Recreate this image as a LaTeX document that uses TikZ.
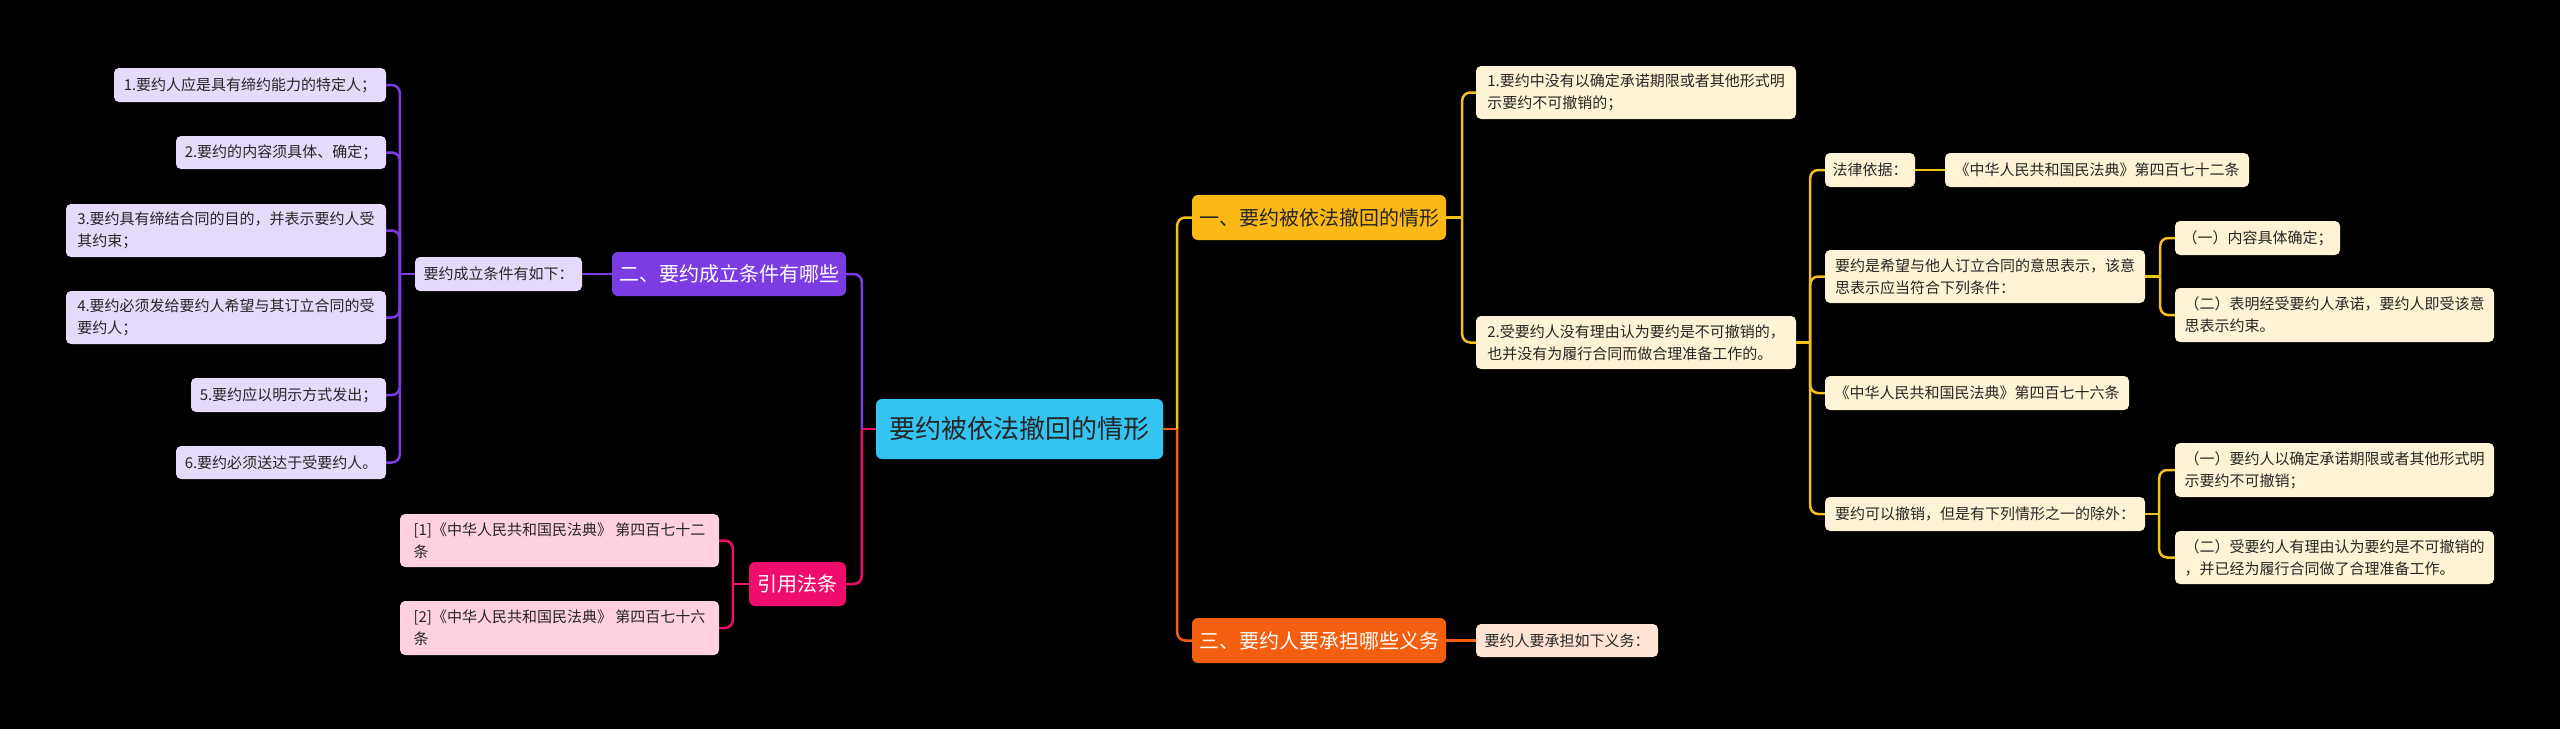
\documentclass[tikz,border=0pt]{standalone}
\usepackage{fontspec}
\setmainfont{Noto Sans CJK SC}
\usetikzlibrary{calc}
\definecolor{cyanR}{HTML}{33C4F2}
\definecolor{yelM}{HTML}{FBB916}
\definecolor{purM}{HTML}{7B3DE3}
\definecolor{pinkM}{HTML}{EF0C6C}
\definecolor{oraM}{HTML}{F35F0E}
\definecolor{lavL}{HTML}{E6DAFB}
\definecolor{pinkL}{HTML}{FED0E0}
\definecolor{creL}{HTML}{FFF3D6}
\definecolor{peaL}{HTML}{FEE3D5}
\definecolor{yelLn}{HTML}{F3C01C}
\definecolor{txt}{HTML}{262626}
\begin{document}
\begin{tikzpicture}[x=1pt,y=-1pt,
  box/.style={rounded corners=5pt, inner sep=0pt, align=left, text=txt, font=\fontsize{15}{22}\selectfont},
  mainb/.style={rounded corners=6pt, inner sep=0pt, font=\fontsize{20}{24}\selectfont, text=white},
  ln/.style={line width=2.5pt, rounded corners=8pt},
]
\fill[black] (0,0) rectangle (2560,729);
\useasboundingbox (0,0) rectangle (2560,729);

% root
\node[rounded corners=6pt, inner sep=0pt, fill=cyanR, text=txt, font=\fontsize{26}{30}\selectfont,
  minimum width=287, minimum height=60] (root) at (1019.5,429) {要约被依法撤回的情形};

% left: purple branch
\node[mainb, fill=purM, minimum width=234, minimum height=44] (pm) at (729,274) {二、要约成立条件有哪些};
\node[box, fill=lavL, minimum width=167, minimum height=34] (sub) at (498.5,274) {要约成立条件有如下：};
\node[box, fill=lavL, minimum width=272, minimum height=34] (l1) at (250,85) {1.要约人应是具有缔约能力的特定人；};
\node[box, fill=lavL, minimum width=210, minimum height=33] (l2) at (281,152.5) {2.要约的内容须具体、确定；};
\node[box, fill=lavL, minimum width=320, minimum height=53] (l3) at (226,230.5) {3.要约具有缔结合同的目的，并表示要约人受\\其约束；};
\node[box, fill=lavL, minimum width=320, minimum height=53] (l4) at (226,317.5) {4.要约必须发给要约人希望与其订立合同的受\\要约人；};
\node[box, fill=lavL, minimum width=195, minimum height=34] (l5) at (288.5,395) {5.要约应以明示方式发出；};
\node[box, fill=lavL, minimum width=210, minimum height=33] (l6) at (281,462.5) {6.要约必须送达于受要约人。};

% left: pink branch
\node[mainb, fill=pinkM, minimum width=97, minimum height=44] (pk) at (797.5,584) {引用法条};
\node[box, fill=pinkL, minimum width=319, minimum height=53] (c1) at (559.5,540.5) {[1]《中华人民共和国民法典》 第四百七十二\\条};
\node[box, fill=pinkL, minimum width=319, minimum height=54] (c2) at (559.5,628) {[2]《中华人民共和国民法典》 第四百七十六\\条};

% right: yellow branch
\node[mainb, fill=yelM, text=txt, minimum width=254, minimum height=45] (ym) at (1319,217.5) {一、要约被依法撤回的情形};
\node[box, fill=creL, minimum width=320, minimum height=53] (r1) at (1636,92.5) {1.要约中没有以确定承诺期限或者其他形式明\\示要约不可撤销的；};
\node[box, fill=creL, minimum width=320, minimum height=53] (r2) at (1636,342.5) {2.受要约人没有理由认为要约是不可撤销的，\\也并没有为履行合同而做合理准备工作的。};
\node[box, fill=creL, minimum width=90, minimum height=34] (law) at (1870,170) {法律依据：};
\node[box, fill=creL, minimum width=304, minimum height=34] (a472) at (2097,170) {《中华人民共和国民法典》第四百七十二条};
\node[box, fill=creL, minimum width=320, minimum height=53] (xi) at (1985,276.5) {要约是希望与他人订立合同的意思表示，该意\\思表示应当符合下列条件：};
\node[box, fill=creL, minimum width=165, minimum height=34] (e1) at (2257.5,238) {（一）内容具体确定；};
\node[box, fill=creL, minimum width=319, minimum height=54] (e2) at (2334.5,315) {（二）表明经受要约人承诺，要约人即受该意\\思表示约束。};
\node[box, fill=creL, minimum width=304, minimum height=34] (a476) at (1977,393) {《中华人民共和国民法典》第四百七十六条};
\node[box, fill=creL, minimum width=320, minimum height=34] (cx) at (1985,514) {要约可以撤销，但是有下列情形之一的除外：};
\node[box, fill=creL, minimum width=319, minimum height=54] (d1) at (2334.5,470) {（一）要约人以确定承诺期限或者其他形式明\\示要约不可撤销；};
\node[box, fill=creL, minimum width=319, minimum height=53] (d2) at (2334.5,557.5) {（二）受要约人有理由认为要约是不可撤销的\\，并已经为履行合同做了合理准备工作。};

% right: orange branch
\node[mainb, fill=oraM, minimum width=254, minimum height=45] (om) at (1319,640.5) {三、要约人要承担哪些义务};
\node[box, fill=peaL, minimum width=182, minimum height=33] (ob) at (1567,640.5) {要约人要承担如下义务：};

% connectors left
\coordinate (jL) at ($(root.west)+(-14,0)$);
\draw[ln,pinkM] (root.west) -- (jL);
\draw[ln,purM] (jL) |- (pm.east);
\draw[ln,pinkM] (jL) |- (pk.east);
\draw[ln,purM] (pm.west) -- (sub.east);
\coordinate (jA) at ($(sub.west)+(-15,0)$);
\draw[ln,purM] (sub.west) -- (jA);
\foreach \n in {l1,l2,l3,l4,l5,l6} \draw[ln,purM] (jA) |- (\n.east);
\coordinate (jK) at ($(pk.west)+(-16,0)$);
\draw[ln,pinkM] (pk.west) -- (jK);
\draw[ln,pinkM] (jK) |- (c1.east);
\draw[ln,pinkM] (jK) |- (c2.east);

% connectors right
\coordinate (jR) at ($(root.east)+(14,0)$);
\draw[ln,oraM] (root.east) -- (jR);
\draw[ln,yelLn] (jR) |- (ym.west);
\draw[ln,oraM] (jR) |- (om.west);
\coordinate (jY) at ($(ym.east)+(16,0)$);
\draw[ln,yelLn] (ym.east) -- (jY);
\draw[ln,yelLn] (jY) |- (r1.west);
\draw[ln,yelLn] (jY) |- (r2.west);
\coordinate (jQ) at ($(r2.east)+(14,0)$);
\draw[ln,yelLn] (r2.east) -- (jQ);
\foreach \n in {law,xi,a476,cx} \draw[ln,yelLn] (jQ) |- (\n.west);
\draw[ln,yelLn] (law.east) -- (a472.west);
\coordinate (jX) at ($(xi.east)+(15,0)$);
\draw[ln,yelLn] (xi.east) -- (jX);
\draw[ln,yelLn] (jX) |- (e1.west);
\draw[ln,yelLn] (jX) |- (e2.west);
\coordinate (jC) at ($(cx.east)+(14,0)$);
\draw[ln,yelLn] (cx.east) -- (jC);
\draw[ln,yelLn] (jC) |- (d1.west);
\draw[ln,yelLn] (jC) |- (d2.west);
\draw[ln,oraM] (om.east) -- (ob.west);
\end{tikzpicture}
\end{document}
